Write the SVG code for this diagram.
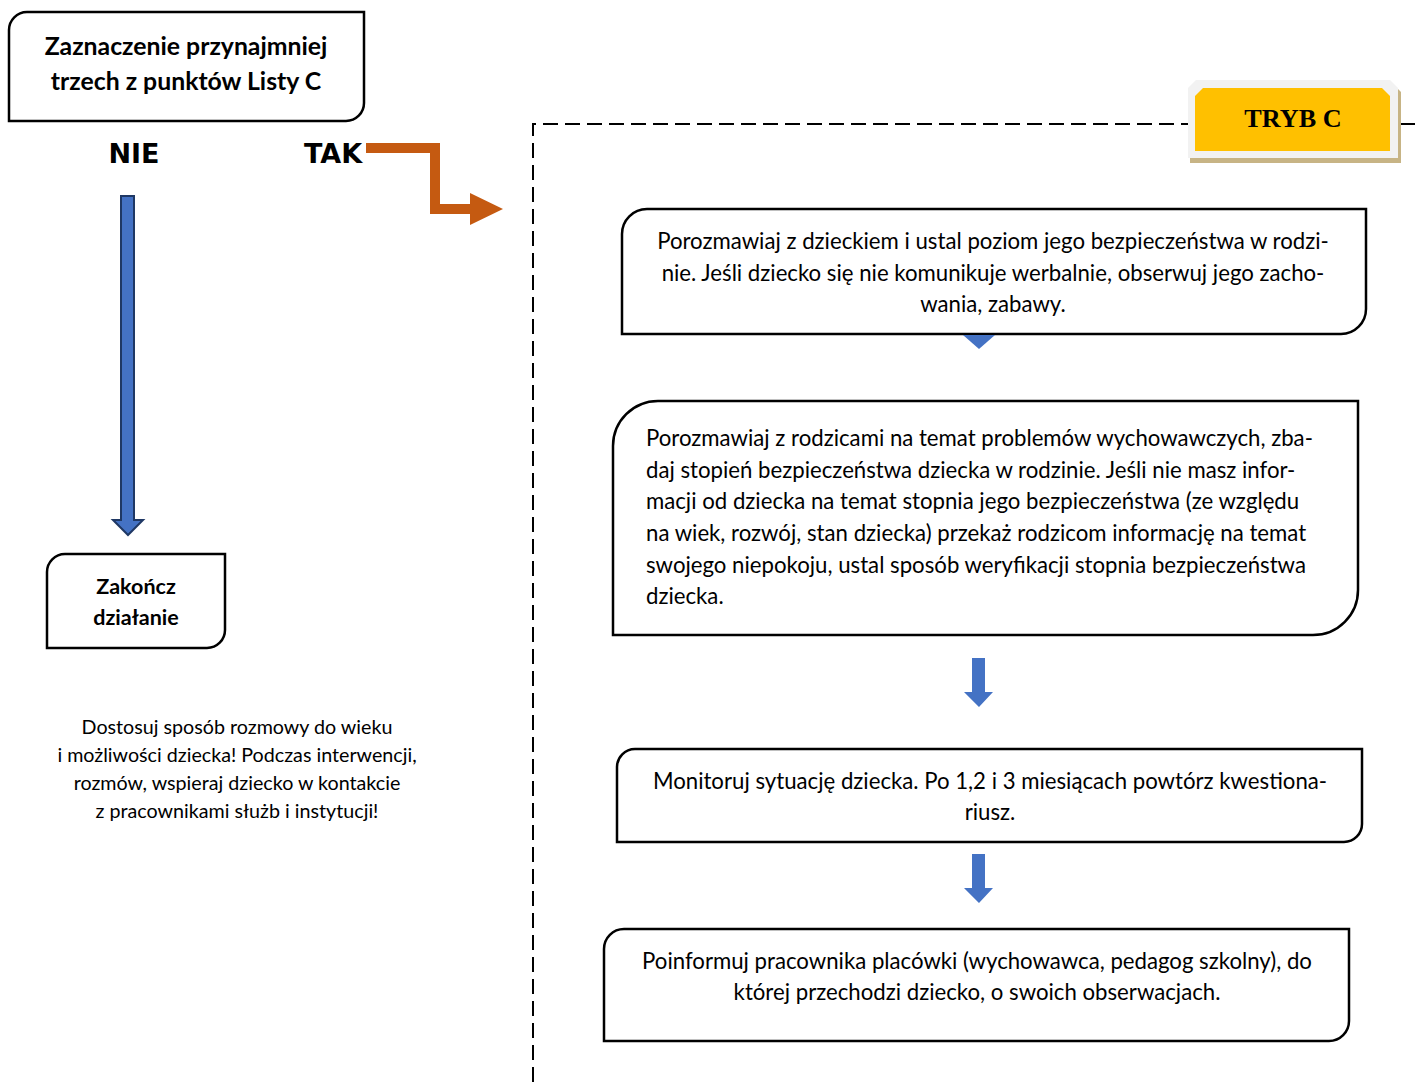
<svg xmlns="http://www.w3.org/2000/svg" width="1415" height="1082" viewBox="0 0 1415 1082">
<style>
.box{fill:#fff;stroke:#000;stroke-width:2.5}
.t{font-family:Lato,"Open Sans",sans-serif;font-size:22.2px;fill:#000}
.tb{font-family:Lato,"Open Sans",sans-serif;font-weight:bold;font-size:24.8px;fill:#000}
.tbs{font-size:21.5px}
.lbl{font-family:"DejaVu Sans","Liberation Sans",sans-serif;font-weight:bold;font-size:27px;fill:#000}
.note{font-family:Lato,"Open Sans",sans-serif;font-size:19.7px;fill:#000}
.barrow{fill:#4472c4;stroke:#1f3864;stroke-width:2}
.sarrow{fill:#4472c4}
</style>
<rect width="1415" height="1082" fill="#fff"/>

<g id="frame">
<path d="M533,1082 V124 H1188 M1400,124 H1415" fill="none" stroke="#000" stroke-width="2" stroke-dasharray="15,7"/>
</g>

<g id="tryb-c">
<polygon points="1198,84 1393,84 1401,92 1401,163 1190,163 1190,92" fill="#c7b485"/>
<polygon points="1196,80 1390,80 1398,88 1398,158 1188,158 1188,88" fill="#f2f2f2"/>
<polygon points="1203,88 1382,88 1390,96 1390,151 1195,151 1195,96" fill="#ffc000"/>
<text x="1293" y="127" text-anchor="middle" font-family="'Liberation Serif','Times New Roman',serif" font-weight="bold" font-size="26.2" fill="#000">TRYB C</text>
</g>

<g id="start">
<path class="box" d="M27,12 H364 V103 A18,18 0 0 1 346,121 H9 V30 A18,18 0 0 1 27,12 Z"/>
<text class="tb" x="186" y="55" text-anchor="middle">Zaznaczenie przynajmniej</text>
<text class="tb" x="186" y="90" text-anchor="middle">trzech z punktów Listy C</text>
</g>

<g id="labels">
<text class="lbl" x="134" y="163" text-anchor="middle">NIE</text>
<text class="lbl" x="333" y="163" text-anchor="middle">TAK</text>
</g>

<g id="end">
<path class="box" d="M65,554 H225 V630 A18,18 0 0 1 207,648 H47 V572 A18,18 0 0 1 65,554 Z"/>
<text class="tb tbs" x="136" y="594" text-anchor="middle">Zakończ</text>
<text class="tb tbs" x="136" y="625" text-anchor="middle">działanie</text>
</g>

<g id="note">
<text class="note" text-anchor="middle" x="237" y="734">Dostosuj sposób rozmowy do wieku</text>
<text class="note" text-anchor="middle" x="237" y="762">i możliwości dziecka! Podczas interwencji,</text>
<text class="note" text-anchor="middle" x="237" y="790">rozmów, wspieraj dziecko w kontakcie</text>
<text class="note" text-anchor="middle" x="237" y="818">z pracownikami służb i instytucji!</text>
</g>

<g id="step1">
<path class="box" d="M647,209 H1366 V309 A25,25 0 0 1 1341,334 H622 V234 A25,25 0 0 1 647,209 Z"/>
<text class="t" x="993" y="249" text-anchor="middle">Porozmawiaj z dzieckiem i ustal poziom jego bezpieczeństwa w rodzi-</text>
<text class="t" x="993" y="281" text-anchor="middle">nie. Jeśli dziecko się nie komunikuje werbalnie, obserwuj jego zacho-</text>
<text class="t" x="993" y="312" text-anchor="middle">wania, zabawy.</text>
</g>

<g id="step2">
<path class="box" d="M658,401 H1358 V590 A45,45 0 0 1 1313,635 H613 V446 A45,45 0 0 1 658,401 Z"/>
<text class="t" x="646" y="446">Porozmawiaj z rodzicami na temat problemów wychowawczych, zba-</text>
<text class="t" x="646" y="478">daj stopień bezpieczeństwa dziecka w rodzinie. Jeśli nie masz infor-</text>
<text class="t" x="646" y="509">macji od dziecka na temat stopnia jego bezpieczeństwa (ze względu</text>
<text class="t" x="646" y="541">na wiek, rozwój, stan dziecka) przekaż rodzicom informację na temat</text>
<text class="t" x="646" y="573">swojego niepokoju, ustal sposób weryfikacji stopnia bezpieczeństwa</text>
<text class="t" x="646" y="604">dziecka.</text>
</g>

<g id="step3">
<path class="box" d="M635,749 H1362 V824 A18,18 0 0 1 1344,842 H617 V767 A18,18 0 0 1 635,749 Z"/>
<text class="t" x="990" y="789" text-anchor="middle">Monitoruj sytuację dziecka. Po 1,2 i 3 miesiącach powtórz kwestiona-</text>
<text class="t" x="990" y="820" text-anchor="middle">riusz.</text>
</g>

<g id="step4">
<path class="box" d="M624,929 H1349 V1021 A20,20 0 0 1 1329,1041 H604 V949 A20,20 0 0 1 624,929 Z"/>
<text class="t" x="977" y="969" text-anchor="middle">Poinformuj pracownika placówki (wychowawca, pedagog szkolny), do</text>
<text class="t" x="977" y="1000" text-anchor="middle">której przechodzi dziecko, o swoich obserwacjach.</text>
</g>

<g id="connectors">
<polygon class="barrow" points="121,196 134,196 134,520 143,520 128,535 113,520 121,520"/>
<path d="M366,148 H435 V209 H472" fill="none" stroke="#c55a11" stroke-width="10"/>
<polygon points="470,193 503,209 470,225" fill="#c55a11"/>
<polygon class="sarrow" points="963,335 995,335 979,349"/>
<polygon class="sarrow" points="972,658 985,658 985,692 993,692 979,707 964,692 972,692"/>
<polygon class="sarrow" points="972,854 985,854 985,888 993,888 979,903 964,888 972,888"/>
</g>
</svg>
